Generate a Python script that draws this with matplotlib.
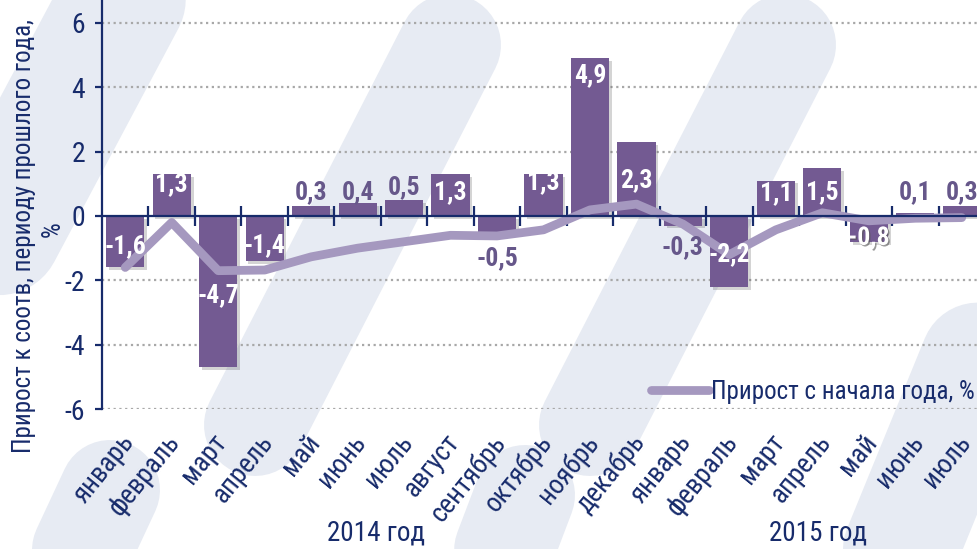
import matplotlib
matplotlib.use("Agg")
import matplotlib.pyplot as plt
from matplotlib.lines import Line2D
from matplotlib.transforms import Affine2D, blended_transform_factory
import matplotlib.patheffects as pe

# ---------------- data ----------------
months = ["январь", "февраль", "март", "апрель", "май", "июнь", "июль", "август",
          "сентябрь", "октябрь", "ноябрь", "декабрь",
          "январь", "февраль", "март", "апрель", "май", "июнь", "июль"]
years = ["2014 год", "2015 год"]
months_per_year = [12, 7]
monthly_growth = [-1.6, 1.3, -4.7, -1.4, 0.3, 0.4, 0.5, 1.3, -0.5, 1.3, 4.9, 2.3,
                  -0.3, -2.2, 1.1, 1.5, -0.8, 0.1, 0.3]
ytd_growth = [-1.6, -0.2, -1.7, -1.68, -1.27, -1.0, -0.8, -0.6, -0.62, -0.43, 0.19, 0.37,
              -0.25, -1.2, -0.43, 0.1, -0.15, -0.07, -0.05]
line_label = "Прирост с начала года, %"
ylabel_main = "Прирост к соотв, периоду прошлого года,"
ylabel_unit = "%"

# label placement (annotation positions, data units)
label_pos = [-0.95, 1.0, -2.45, -0.9, 0.75, 0.75, 0.9, 0.75, -1.3, 1.05, 4.38, 1.1,
             -0.96, -1.2, 0.7, 0.75, -0.68, 0.75, 0.75]

# ---------------- style ----------------
plt.rcParams["font.family"] = ["Roboto Condensed", "DejaVu Sans"]

NAVY = "#172B6B"
BAR = "#735A92"
LINE = "#A598BF"
WM = "#E7EBF3"
GRID = "#A8A8A8"

W, H = 978, 549
fig = plt.figure(figsize=(W / 100, H / 100), dpi=100)
fig.patch.set_facecolor("white")

# watermark (background decoration) in pixel coordinates, y measured from top
pix = Affine2D().scale(1 / 100.0) + fig.dpi_scale_trans
def stripe(x0, y0, x1, y1, width_px):
    ln = Line2D([x0, x1], [H - y0, H - y1], transform=pix, color=WM,
                linewidth=width_px * 0.72, solid_capstyle="round", zorder=0)
    fig.add_artist(ln)

stripe(160, -70, -90, 400, 125)
stripe(450, 45, 255, 425, 102)
stripe(785, 45, 590, 425, 102)
stripe(1025, 245, 880, 600, 115)
stripe(110, 490, 40, 640, 100)
stripe(525, 495, 470, 640, 100)

# ---------------- axes ----------------
ax = fig.add_axes([102 / W, (H - 409) / H, 883 / W, 409 / H])
ax.set_facecolor("none")
n = len(months)
x = list(range(n))

bars = ax.bar(x, monthly_growth, width=0.82, color=BAR, zorder=3)
for b in bars:
    b.set_path_effects([pe.SimplePatchShadow(offset=(2, -2), shadow_rgbFace="#555555", alpha=0.25),
                        pe.Normal()])

ax.plot(x, ytd_growth, color=LINE, linewidth=6.3, solid_capstyle="round",
        solid_joinstyle="round", zorder=4, label=line_label)

ax.set_xlim(-0.5, n - 0.5)
ax.set_ylim(-6, 6.715)

# grid (dotted), excluding zero
for gy in [-6, -4, -2, 2, 4, 6]:
    ax.axhline(gy, color=GRID, linestyle=(0, (1, 1.6)), linewidth=1.6, zorder=1)

# spines
for s in ["top", "right"]:
    ax.spines[s].set_visible(False)
ax.spines["left"].set_color(NAVY)
ax.spines["left"].set_linewidth(1.6)
ax.spines["bottom"].set_position(("data", 0))
ax.spines["bottom"].set_color(NAVY)
ax.spines["bottom"].set_linewidth(1.6)
ax.spines["bottom"].set_zorder(5)

ax.set_yticks([-6, -4, -2, 0, 2, 4, 6])
ax.set_yticklabels(["-6", "-4", "-2", "0", "2", "4", "6"])
ax.tick_params(axis="y", direction="out", length=5, width=1.6, color=NAVY,
               labelcolor=NAVY, labelsize=20, pad=7)

ax.set_xticks([i + 0.5 for i in range(n - 1)])
ax.set_xticklabels([])
ax.tick_params(axis="x", direction="inout", length=15, width=1.6, color=NAVY)

# month labels
xt = blended_transform_factory(ax.transData, ax.transAxes)
for i, m in enumerate(months):
    ax.text(i + 0.08, -0.07, m, transform=xt, rotation=51, rotation_mode="anchor",
            ha="right", va="center", fontsize=19.5, color=NAVY, clip_on=False)

# year labels
start = 0
for yl, cnt in zip(years, months_per_year):
    cx = start + (cnt - 1) / 2.0
    ax.text(cx - 0.1, -0.302, yl, transform=xt, ha="center", va="center",
            fontsize=19.5, color=NAVY, clip_on=False)
    start += cnt

# data labels
for i, (v, ly) in enumerate(zip(monthly_growth, label_pos)):
    txt = f"{v:.1f}".replace(".", ",")
    inside = abs(v) >= 1
    if inside or v == -0.8:
        t = ax.text(i, ly, txt, ha="center", va="center", fontsize=18.5, fontweight="bold",
                    color="white", zorder=6)
        if not inside:
            t.set_path_effects([pe.withSimplePatchShadow(offset=(1, -1), shadow_rgbFace="#555555", alpha=0.6)])
    else:
        ax.text(i, ly, txt, ha="center", va="center", fontsize=18.5, fontweight="bold",
                color="#66578A", zorder=6)

# legend
leg = ax.legend(loc="center right", bbox_to_anchor=(975 / W, (H - 392) / H),
                bbox_transform=fig.transFigure, frameon=False, fontsize=18,
                handlelength=2.3, handletextpad=0.1, borderpad=0, borderaxespad=0)
for t in leg.get_texts():
    t.set_color(NAVY)

# y-axis title (two lines)
fig.text(24 / W, (H - 236) / H, ylabel_main, rotation=90, ha="center", va="center",
         fontsize=18, color=NAVY)
fig.text(53 / W, (H - 229) / H, ylabel_unit, rotation=90, ha="center", va="center",
         fontsize=18, color=NAVY)

fig.savefig("out.png", dpi=100, facecolor="white")
